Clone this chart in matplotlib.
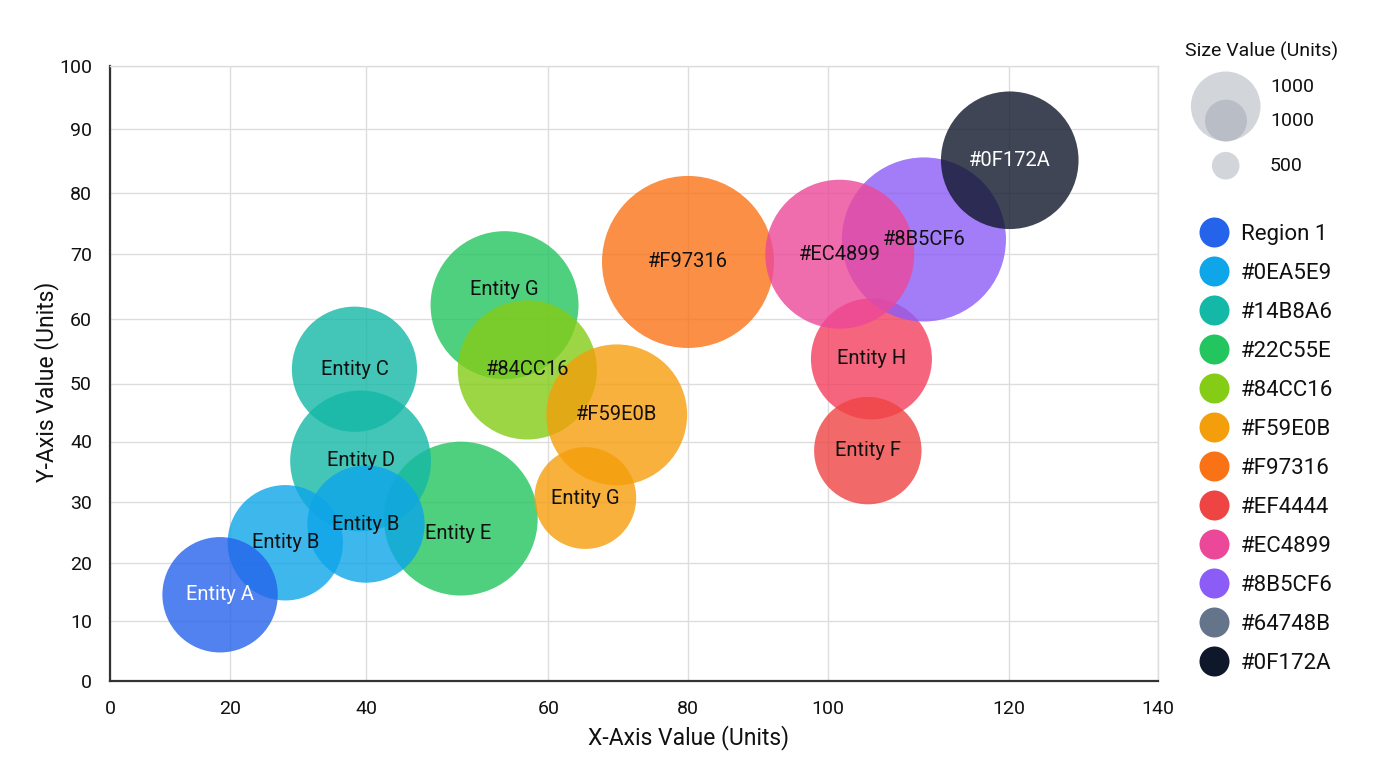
import numpy as np
import matplotlib
matplotlib.use("Agg")
import matplotlib.pyplot as plt
from matplotlib.lines import Line2D
from matplotlib.patches import Circle

plt.rcParams['font.family'] = ['Roboto', 'DejaVu Sans']

# datos de las burbujas (orden = orden de dibujo)
labels = ["Entity E", "Entity G", "Entity C", "Entity D", "Entity B", "Entity B",
          "Entity A", "#84CC16", "#F59E0B", "Entity G", "#F97316", "Entity H",
          "Entity F", "#8B5CF6", "#EC4899", "#0F172A"]
x_vals = [50.4, 55.2, 38.3, 39.2, 28.1, 40.0, 18.3, 57.7, 69.8, 65.3, 80.0, 104.8,
          104.4, 110.6, 101.3, 120.1]
y_vals = [27.3, 62.1, 52.2, 36.8, 23.3, 26.4, 14.5, 52.1, 44.6, 30.7, 68.8, 53.8,
          38.5, 72.4, 70.0, 85.1]
size_vals = [800, 740, 530, 670, 450, 465, 450, 655, 670, 350, 1000, 495,
             390, 910, 750, 640]
colors = ["#22C55E", "#22C55E", "#14B8A6", "#14B8A6", "#0EA5E9", "#0EA5E9",
          "#2563EB", "#84CC16", "#F59E0B", "#F59E0B", "#F97316", "#F43F5E",
          "#EF4444", "#8B5CF6", "#EC4899", "#0F172A"]

legend_labels = ["Region 1", "#0EA5E9", "#14B8A6", "#22C55E", "#84CC16", "#F59E0B",
                 "#F97316", "#EF4444", "#EC4899", "#8B5CF6", "#64748B", "#0F172A"]
legend_colors = ["#2563EB", "#0EA5E9", "#14B8A6", "#22C55E", "#84CC16", "#F59E0B",
                 "#F97316", "#EF4444", "#EC4899", "#8B5CF6", "#64748B", "#0F172A"]

size_legend_labels = ["1000", "1000", "500"]

x_ticks = [0, 20, 40, 60, 80, 100, 120, 140]
y_ticks = [0, 10, 20, 30, 40, 50, 60, 70, 80, 90, 100]

# la grilla del original no es uniforme: posiciones relativas de cada tick
x_tick_pos = [0, 120.3, 256, 438.3, 578, 718, 899, 1048]
y_tick_pos = [0, 60, 118.3, 178.7, 239.5, 297.5, 362.3, 426.8, 488.2, 552, 615]


def piecewise(v, src, dst):
    v = np.asarray(v, dtype=float)
    out = np.interp(v, src, dst)
    lo_slope = (dst[1] - dst[0]) / (src[1] - src[0])
    hi_slope = (dst[-1] - dst[-2]) / (src[-1] - src[-2])
    out = np.where(v < src[0], dst[0] + (v - src[0]) * lo_slope, out)
    out = np.where(v > src[-1], dst[-1] + (v - src[-1]) * hi_slope, out)
    return out


dpi = 100
fig = plt.figure(figsize=(13.76, 7.68), dpi=dpi)
ax = fig.add_axes([110 / 1376, 1 - 681 / 768, 1048 / 1376, 615 / 768])

ax.set_xscale('function', functions=(lambda v: piecewise(v, x_ticks, x_tick_pos),
                                     lambda p: piecewise(p, x_tick_pos, x_ticks)))
ax.set_yscale('function', functions=(lambda v: piecewise(v, y_ticks, y_tick_pos),
                                     lambda p: piecewise(p, y_tick_pos, y_ticks)))
ax.set_xlim(0, 140)
ax.set_ylim(0, 100)
ax.set_xticks(x_ticks)
ax.set_yticks(y_ticks)
ax.minorticks_off()

# tamaño: valor 1000 -> radio de 86 px
bubble_scale = (2 * 86 * 72 / dpi) ** 2 / 1000
ax.scatter(x_vals, y_vals, s=np.array(size_vals) * bubble_scale, c=colors,
           alpha=0.8, linewidths=0, zorder=3)

label_nudge = {"Entity E": (-2, -11), "Entity G": (0, 11)}
for i, lab in enumerate(labels):
    off = (0, 0)
    if lab in label_nudge and colors[i] == "#22C55E":
        off = label_nudge[lab]
    txt_color = "white" if colors[i] in ("#2563EB", "#0F172A") else "#111111"
    ax.annotate(lab, (x_vals[i], y_vals[i]), xytext=off, textcoords='offset points',
                ha='center', va='center', fontsize=14.5, color=txt_color, zorder=5)

ax.grid(True, color='#DDDDDD', linewidth=1, zorder=0)
ax.set_axisbelow(True)
for side in ['top', 'right']:
    ax.spines[side].set_color('#DDDDDD')
    ax.spines[side].set_linewidth(1)
for side in ['left', 'bottom']:
    ax.spines[side].set_color('#333333')
    ax.spines[side].set_linewidth(1.6)
ax.tick_params(length=0, labelsize=14, labelcolor='#111111')
ax.tick_params(axis='x', pad=14)
ax.tick_params(axis='y', pad=13)

ax.set_xlabel('X-Axis Value (Units)', fontsize=16.5, color='#111111')
ax.set_ylabel('Y-Axis Value (Units)', fontsize=16.5, color='#111111')
ax.xaxis.set_label_coords(0.5525, -0.072)
ax.yaxis.set_label_coords(-0.049, 0.486)

# leyenda de colores
handles = [Line2D([], [], marker='o', linestyle='', markersize=21.6,
                  markerfacecolor=c, markeredgewidth=0) for c in legend_colors]
fig.legend(handles, legend_labels, loc='upper left',
           bbox_to_anchor=(1199 / 1376, 1 - 224 / 768), frameon=False,
           fontsize=16, borderpad=0, borderaxespad=0, handlelength=1.35,
           handletextpad=0.55, labelspacing=0.81, labelcolor='#111111')

# leyenda de tamaños (dibujada a mano, en píxeles)
lax = fig.add_axes([0, 0, 1, 1])
lax.set_xlim(0, 1376)
lax.set_ylim(768, 0)
lax.axis('off')
lax.text(1262, 51, 'Size Value (Units)', ha='center', va='center', fontsize=14,
         color='#111111')
for cx, cy, r in [(1225.7, 106.3, 34.8), (1226, 120.7, 21), (1225.7, 165.7, 13.8)]:
    lax.add_patch(Circle((cx, cy), r, facecolor='#9CA3AF', alpha=0.45, linewidth=0))
for lab, ty in zip(size_legend_labels, [86.7, 120.7, 165.7]):
    lax.text(1270, ty, lab, ha='left', va='center', fontsize=14, color='#111111')

fig.savefig('out.png', dpi=dpi)
